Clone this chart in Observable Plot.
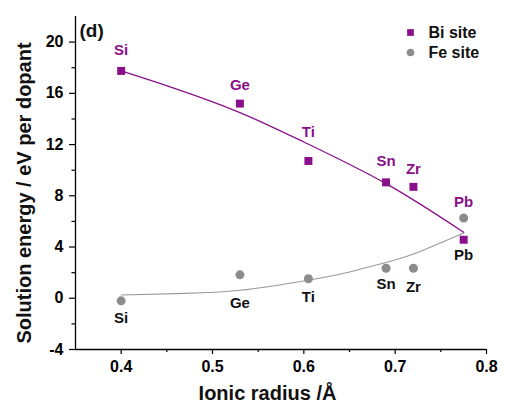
<!DOCTYPE html>
<html><head><meta charset="utf-8">
<script src="https://cdn.jsdelivr.net/npm/d3@7"></script>
<script src="https://cdn.jsdelivr.net/npm/@observablehq/plot@0.6"></script>
<style>body{margin:0;background:#fff;} svg{display:block;}</style>
</head><body><div id="chart"></div>
<script>
// ---- data ----
const dopants = ["Si", "Ge", "Ti", "Sn", "Zr", "Pb"];
const radius = [0.40, 0.53, 0.605, 0.69, 0.72, 0.775];
const biEnergy = [17.75, 15.2, 10.72, 9.05, 8.7, 4.57];
const feEnergy = [-0.2, 1.83, 1.52, 2.34, 2.34, 6.27];
// fitted trend curves
const biFitX = [0.40, 0.46, 0.53, 0.60, 0.69, 0.775];
const biFitY = [17.75, 16.35, 14.5, 12.2, 8.95, 5.15];
const feFitX = [0.40, 0.47, 0.53, 0.60, 0.65, 0.69, 0.72, 0.775];
const feFitY = [0.26, 0.38, 0.62, 1.35, 2.05, 2.8, 3.45, 5.1];
// label anchor positions (data units)
const biLabelY = [19.34, 16.6, 12.94, 10.7, 10.05, 7.5];
const feLabelY = [-1.56, -0.39, 0.08, 1.12, 0.86, 3.33];
const seriesNames = ["Bi site", "Fe site"];
// ticks
const xMajor = [0.4, 0.5, 0.6, 0.7, 0.8];
const xMinor = [0.45, 0.55, 0.65, 0.75];
const yMajor = [-4, 0, 4, 8, 12, 16, 20];
const yMinor = [-2, 2, 6, 10, 14, 18];

const purple = "#8a0f8a";
const grey = "#8c8c8c";
const font = "Liberation Sans, Arial, sans-serif";

const bi = dopants.map((d, i) => ({d, x: radius[i], y: biEnergy[i], ly: biLabelY[i]}));
const fe = dopants.map((d, i) => ({d, x: radius[i], y: feEnergy[i], ly: feLabelY[i]}));
const biFit = biFitX.map((x, i) => ({x, y: biFitY[i]}));
const feFit = feFitX.map((x, i) => ({x, y: feFitY[i]}));

const chart = Plot.plot({
  width: 505,
  height: 405,
  marginLeft: 75,
  marginRight: 19,
  marginTop: 16,
  marginBottom: 56,
  style: {fontFamily: font, background: "#fff", color: "#000"},
  x: {domain: [0.35, 0.8]},
  y: {domain: [-4, 22]},
  marks: [
    Plot.axisX(xMajor, {anchor: "bottom", tickSize: 5, tickPadding: 6, fontSize: 16, fontWeight: "bold", tickFormat: d => d.toFixed(1), label: null, strokeWidth: 1.2}),
    Plot.axisX(xMinor, {anchor: "bottom", tickSize: 3, text: null, label: null, strokeWidth: 1.2}),
    Plot.axisY(yMajor, {anchor: "left", tickSize: 6, tickPadding: 6, fontSize: 16, fontWeight: "bold", tickFormat: d => String(d), label: null, strokeWidth: 1.2}),
    Plot.axisY(yMinor, {anchor: "left", tickSize: 3.5, text: null, label: null, strokeWidth: 1.2}),
    Plot.ruleX([0.35], {stroke: "#000", strokeWidth: 1.3}),
    Plot.ruleY([-4], {stroke: "#000", strokeWidth: 1.3}),
    Plot.line(feFit, {x: "x", y: "y", curve: "natural", stroke: "#999", strokeWidth: 1.1}),
    Plot.line(biFit, {x: "x", y: "y", curve: "natural", stroke: purple, strokeWidth: 1.3}),
    Plot.dot(fe, {x: "x", y: "y", r: 4.5, fill: grey, symbol: "circle"}),
    Plot.dot(bi, {x: "x", y: "y", r: 4.5, fill: purple, symbol: "square"}),
    Plot.text(bi, {x: "x", y: "ly", text: "d", fill: purple, fontSize: 15, fontWeight: "bold", lineAnchor: "middle"}),
    Plot.text(fe, {x: "x", y: "ly", text: "d", fill: "#111", fontSize: 15, fontWeight: "bold", lineAnchor: "middle"}),
    // legend
    Plot.dot([0], {frameAnchor: "top-right", dx: -76, dy: 16, r: 3.8, symbol: "square", fill: purple}),
    Plot.dot([0], {frameAnchor: "top-right", dx: -76, dy: 36, r: 3.8, symbol: "circle", fill: grey}),
    Plot.text([seriesNames[0]], {frameAnchor: "top-right", dx: -58, dy: 16, textAnchor: "start", lineAnchor: "middle", fontSize: 16, fontWeight: "bold", fill: "#111"}),
    Plot.text([seriesNames[1]], {frameAnchor: "top-right", dx: -58, dy: 36, textAnchor: "start", lineAnchor: "middle", fontSize: 16, fontWeight: "bold", fill: "#111"}),
    // panel tag
    Plot.text(["(d)"], {frameAnchor: "top-left", dx: 4, dy: 14, textAnchor: "start", lineAnchor: "middle", fontSize: 19, fontWeight: "bold", fill: "#111"}),
    // axis titles
    Plot.text(["Ionic radius /Å"], {frameAnchor: "bottom", dx: -13.5, dy: 44, textAnchor: "middle", lineAnchor: "middle", fontSize: 20, fontWeight: "bold", fill: "#111"}),
    Plot.text(["Solution energy / eV per dopant"], {frameAnchor: "left", dx: -51, dy: 10, rotate: -90, textAnchor: "middle", lineAnchor: "middle", fontSize: 20, fontWeight: "bold", fill: "#111"})
  ]
});
document.getElementById("chart").appendChild(chart);
</script>
</body></html>
